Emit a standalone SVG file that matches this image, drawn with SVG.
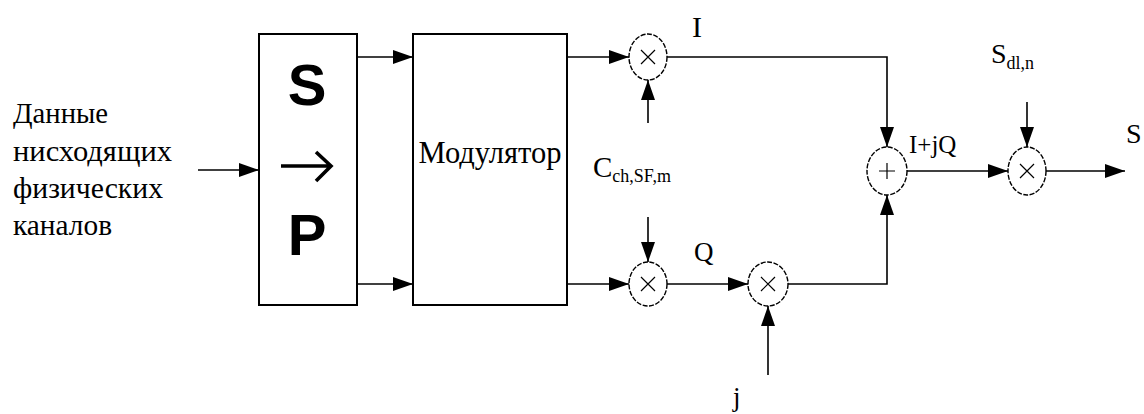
<svg xmlns="http://www.w3.org/2000/svg" width="1144" height="414" viewBox="0 0 1144 414">
<style>
.ln{fill:none;stroke:#000;stroke-width:1.6}
.bx{fill:#fff;stroke:#000;stroke-width:2}
.op{fill:#fff;stroke:#000;stroke-width:1.4;stroke-dasharray:5 1.5}
.sym{fill:none;stroke:#000;stroke-width:1.2}
.t{font-family:"Liberation Serif","DejaVu Serif","FreeSerif","Noto Serif","Tinos","Times New Roman",serif;fill:#000}
.sp{font-family:"Liberation Sans",Arial,sans-serif;font-weight:bold;fill:#000}
</style>
<defs>
<marker id="ah" markerUnits="userSpaceOnUse" markerWidth="22" markerHeight="14" refX="20" refY="7" orient="auto">
<path d="M0,0 L20,7 L0,14 Z" fill="#000"/>
</marker>
</defs>
<rect width="1144" height="414" fill="#fff"/>
<g id="input-label">
<text class="t" x="13" y="123" font-size="29" textLength="95" lengthAdjust="spacingAndGlyphs">Данные</text>
<text class="t" x="13" y="161" font-size="29" textLength="159" lengthAdjust="spacingAndGlyphs">нисходящих</text>
<text class="t" x="13" y="198" font-size="29" textLength="150" lengthAdjust="spacingAndGlyphs">физических</text>
<text class="t" x="13" y="235" font-size="29" textLength="99" lengthAdjust="spacingAndGlyphs">каналов</text>
</g>
<g id="sp">
<rect class="bx" x="259" y="34" width="98" height="271"/>
<text class="sp" x="307" y="105" font-size="58" text-anchor="middle">S</text>
<path d="M281,166 L330,166 M316,152 L331,166 L316,181" fill="none" stroke="#000" stroke-width="3.6" stroke-linejoin="miter"/>
<text class="sp" x="307" y="255" font-size="58" text-anchor="middle">P</text>
</g>
<g id="modulator">
<rect class="bx" x="413" y="34" width="154" height="271"/>
<text class="t" x="490" y="163" font-size="31" text-anchor="middle" textLength="143" lengthAdjust="spacingAndGlyphs">Модулятор</text>
</g>
<g id="mult-i">
<ellipse class="op" cx="648" cy="57" rx="19" ry="23"/>
<path class="sym" d="M641,50 L655,64 M655,50 L641,64"/>
</g>
<g id="mult-q">
<ellipse class="op" cx="648" cy="284" rx="19" ry="22"/>
<path class="sym" d="M641,277 L655,291 M655,277 L641,291"/>
</g>
<g id="mult-j">
<ellipse class="op" cx="768" cy="284" rx="20" ry="22"/>
<path class="sym" d="M761,277 L775,291 M775,277 L761,291"/>
</g>
<g id="adder">
<ellipse class="op" cx="887" cy="171" rx="20" ry="24"/>
<path class="sym" d="M879,171 L895,171 M887,163 L887,179"/>
</g>
<g id="mult-s">
<ellipse class="op" cx="1027" cy="171" rx="19" ry="24"/>
<path class="sym" d="M1020,164 L1034,178 M1034,164 L1020,178"/>
</g>
<g id="labels">
<text class="t" x="692" y="37" font-size="30">I</text>
<text class="t" x="593" y="177" font-size="29">C<tspan font-size="18" dy="5">ch,SF,m</tspan></text>
<text class="t" x="694" y="261" font-size="27">Q</text>
<text class="t" x="733" y="406" font-size="27">j</text>
<text class="t" x="909" y="153" font-size="25">I+jQ</text>
<text class="t" x="991" y="63" font-size="28">S<tspan font-size="18" dy="6">dl,n</tspan></text>
<text class="t" x="1126" y="143" font-size="28">S</text>
</g>
<g id="connectors">
<line class="ln" x1="198" y1="170" x2="259" y2="170" marker-end="url(#ah)"/>
<line class="ln" x1="357" y1="57" x2="413" y2="57" marker-end="url(#ah)"/>
<line class="ln" x1="357" y1="284" x2="413" y2="284" marker-end="url(#ah)"/>
<line class="ln" x1="568" y1="57" x2="629" y2="57" marker-end="url(#ah)"/>
<line class="ln" x1="568" y1="284" x2="629" y2="284" marker-end="url(#ah)"/>
<line class="ln" x1="648" y1="123" x2="648" y2="80" marker-end="url(#ah)"/>
<line class="ln" x1="648" y1="217" x2="648" y2="262" marker-end="url(#ah)"/>
<line class="ln" x1="667" y1="284" x2="748" y2="284" marker-end="url(#ah)"/>
<line class="ln" x1="768" y1="375" x2="768" y2="306" marker-end="url(#ah)"/>
<polyline class="ln" points="667,57 887,57 887,147" marker-end="url(#ah)"/>
<polyline class="ln" points="788,284 887,284 887,195" marker-end="url(#ah)"/>
<line class="ln" x1="907" y1="171" x2="1008" y2="171" marker-end="url(#ah)"/>
<line class="ln" x1="1027" y1="102" x2="1027" y2="147" marker-end="url(#ah)"/>
<line class="ln" x1="1046" y1="171" x2="1125" y2="171" marker-end="url(#ah)"/>
</g>
</svg>
